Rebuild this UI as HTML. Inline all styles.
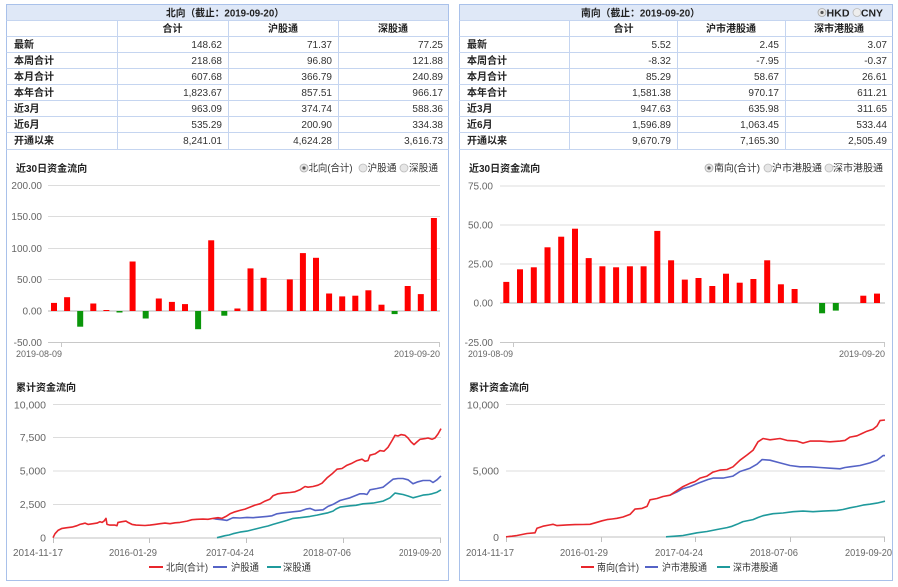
<!DOCTYPE html>
<html><head><meta charset="utf-8">
<style>
html,body{margin:0;padding:0;background:#fff;}
svg{display:block;}
text{font-family:"Liberation Sans","Noto Sans CJK SC",sans-serif;}
.cj{font-family:"Liberation Sans","Noto Sans CJK SC",sans-serif;}
.lb{font-size:10px;font-weight:bold;fill:#222;}
.num{font-size:10px;fill:#333;text-anchor:end;}
.hd{font-size:10px;font-weight:bold;fill:#222;text-anchor:middle;}
.ax{font-size:10px;fill:#666;text-anchor:end;}
.dt{font-size:9.5px;fill:#666;}
.lg{font-size:10px;fill:#333;}
.grid{stroke:#dcdcdc;stroke-width:1;}
</style></head>
<body>
<svg width="898" height="587" viewBox="0 0 898 587" xmlns="http://www.w3.org/2000/svg">
<!-- ================= LEFT PANEL ================= -->
<rect x="6.5" y="4.5" width="442" height="576" fill="#fff" stroke="#a9c1ea" stroke-width="1"/>
<rect x="7" y="5" width="441" height="15.5" fill="#dfe8f7"/>
<g stroke="#c5d5f0" stroke-width="1">
<line x1="6.5" y1="20.5" x2="448.5" y2="20.5"/>
<line x1="6.5" y1="36.5" x2="448.5" y2="36.5"/>
<line x1="6.5" y1="52.5" x2="448.5" y2="52.5"/>
<line x1="6.5" y1="68.5" x2="448.5" y2="68.5"/>
<line x1="6.5" y1="84.5" x2="448.5" y2="84.5"/>
<line x1="6.5" y1="100.5" x2="448.5" y2="100.5"/>
<line x1="6.5" y1="116.5" x2="448.5" y2="116.5"/>
<line x1="6.5" y1="132.5" x2="448.5" y2="132.5"/>
<line x1="6.5" y1="149.5" x2="448.5" y2="149.5"/>
<line x1="117.5" y1="20.5" x2="117.5" y2="149.5"/>
<line x1="228.5" y1="20.5" x2="228.5" y2="149.5"/>
<line x1="338.5" y1="20.5" x2="338.5" y2="149.5"/>
</g>
<text x="225" y="16.5" class="hd" textLength="118" lengthAdjust="spacingAndGlyphs">北向（截止：2019-09-20）</text>
<text x="172.5" y="32" class="hd">合计</text>
<text x="283" y="32" class="hd">沪股通</text>
<text x="393" y="32" class="hd">深股通</text>
<g class="lb">
<text x="14" y="48">最新</text>
<text x="14" y="64">本周合计</text>
<text x="14" y="80">本月合计</text>
<text x="14" y="96">本年合计</text>
<text x="14" y="112">近3月</text>
<text x="14" y="128">近6月</text>
<text x="14" y="144">开通以来</text>
</g>
<g class="num">
<text x="222" y="48">148.62</text><text x="332" y="48">71.37</text><text x="443" y="48">77.25</text>
<text x="222" y="64">218.68</text><text x="332" y="64">96.80</text><text x="443" y="64">121.88</text>
<text x="222" y="80">607.68</text><text x="332" y="80">366.79</text><text x="443" y="80">240.89</text>
<text x="222" y="96">1,823.67</text><text x="332" y="96">857.51</text><text x="443" y="96">966.17</text>
<text x="222" y="112">963.09</text><text x="332" y="112">374.74</text><text x="443" y="112">588.36</text>
<text x="222" y="128">535.29</text><text x="332" y="128">200.90</text><text x="443" y="128">334.38</text>
<text x="222" y="144">8,241.01</text><text x="332" y="144">4,624.28</text><text x="443" y="144">3,616.73</text>
</g>

<!-- left bar chart -->
<text x="16" y="172" class="lb">近30日资金流向</text>
<g>
<circle cx="304" cy="168" r="4" fill="#e6e6e6" stroke="#aaa" stroke-width="0.8"/><circle cx="304" cy="168" r="1.6" fill="#555"/>
<text x="308.5" y="171.5" class="lg" textLength="44" lengthAdjust="spacingAndGlyphs">北向(合计)</text>
<circle cx="363" cy="168" r="4" fill="#e6e6e6" stroke="#bbb" stroke-width="0.8"/>
<text x="367.5" y="171.5" class="lg" textLength="29" lengthAdjust="spacingAndGlyphs">沪股通</text>
<circle cx="404" cy="168" r="4" fill="#e6e6e6" stroke="#bbb" stroke-width="0.8"/>
<text x="409" y="171.5" class="lg" textLength="29" lengthAdjust="spacingAndGlyphs">深股通</text>
</g>
<g class="grid">
<line x1="48" y1="185.5" x2="440" y2="185.5"/>
<line x1="48" y1="216.5" x2="440" y2="216.5"/>
<line x1="48" y1="248.5" x2="440" y2="248.5"/>
<line x1="48" y1="279.5" x2="440" y2="279.5"/>
</g>
<line x1="48" y1="311" x2="440" y2="311" stroke="#b5b5b5" stroke-width="1"/>
<line x1="48" y1="342.5" x2="440" y2="342.5" stroke="#c8c8c8" stroke-width="1"/>
<line x1="61.5" y1="342" x2="61.5" y2="347" stroke="#c8c8c8"/>
<line x1="439.5" y1="342" x2="439.5" y2="347" stroke="#c8c8c8"/>
<g class="ax">
<text x="42" y="189">200.00</text>
<text x="42" y="220">150.00</text>
<text x="42" y="252">100.00</text>
<text x="42" y="283">50.00</text>
<text x="42" y="314.5">0.00</text>
<text x="42" y="346">-50.00</text>
</g>
<text x="16" y="357" class="dt" textLength="46" lengthAdjust="spacingAndGlyphs">2019-08-09</text>
<text x="394" y="357" class="dt" textLength="46" lengthAdjust="spacingAndGlyphs">2019-09-20</text>
<g fill="#ff0000">
<rect x="51" y="302.9" width="6" height="8.1"/>
<rect x="64.1" y="297.2" width="6" height="13.8"/>
<rect x="90.3" y="303.5" width="6" height="7.5"/>
<rect x="103.4" y="310" width="6" height="1"/>
<rect x="129.6" y="261.5" width="6" height="49.5"/>
<rect x="155.8" y="298.5" width="6" height="12.5"/>
<rect x="168.9" y="301.9" width="6" height="9.1"/>
<rect x="182" y="304.1" width="6" height="6.9"/>
<rect x="208.2" y="240.3" width="6" height="70.7"/>
<rect x="234.4" y="308.5" width="6" height="2.5"/>
<rect x="247.5" y="268.4" width="6" height="42.6"/>
<rect x="260.6" y="277.8" width="6" height="33.2"/>
<rect x="286.8" y="279.4" width="6" height="31.6"/>
<rect x="299.9" y="253.1" width="6" height="57.9"/>
<rect x="313" y="257.8" width="6" height="53.2"/>
<rect x="326.1" y="293.5" width="6" height="17.5"/>
<rect x="339.2" y="296.4" width="6" height="14.6"/>
<rect x="352.3" y="295.7" width="6" height="15.3"/>
<rect x="365.4" y="290.3" width="6" height="20.7"/>
<rect x="378.5" y="304.7" width="6" height="6.3"/>
<rect x="404.7" y="286" width="6" height="25"/>
<rect x="417.8" y="294.1" width="6" height="16.9"/>
<rect x="430.9" y="218" width="6" height="93"/>
</g>
<g fill="#0a960a">
<rect x="77.2" y="311" width="6" height="15.7"/>
<rect x="116.5" y="311" width="6" height="1.5"/>
<rect x="142.7" y="311" width="6" height="7.5"/>
<rect x="195.1" y="311" width="6" height="18.2"/>
<rect x="221.3" y="311" width="6" height="4.7"/>
<rect x="391.6" y="311" width="6" height="3.1"/>
</g>

<!-- left cumulative -->
<text x="16" y="391" class="lb">累计资金流向</text>
<g class="grid">
<line x1="53" y1="404.5" x2="441" y2="404.5"/>
<line x1="53" y1="437.5" x2="441" y2="437.5"/>
<line x1="53" y1="471" x2="441" y2="471"/>
<line x1="53" y1="504.5" x2="441" y2="504.5"/>
</g>
<line x1="53" y1="538" x2="441" y2="538" stroke="#c0c0c0"/>
<g stroke="#c0c0c0">
<line x1="53.5" y1="538" x2="53.5" y2="543"/>
<line x1="149.5" y1="538" x2="149.5" y2="543"/>
<line x1="246.5" y1="538" x2="246.5" y2="543"/>
<line x1="343.5" y1="538" x2="343.5" y2="543"/>
<line x1="440.5" y1="538" x2="440.5" y2="543"/>
</g>
<g class="ax" style="font-size:10.5px">
<text x="46" y="408.5">10,000</text>
<text x="46" y="441">7,500</text>
<text x="46" y="474.5">5,000</text>
<text x="46" y="508">2,500</text>
<text x="46" y="541.5">0</text>
</g>
<g class="dt" style="font-size:10.5px">
<text x="13" y="556" textLength="50" lengthAdjust="spacingAndGlyphs">2014-11-17</text>
<text x="109" y="556" textLength="48" lengthAdjust="spacingAndGlyphs">2016-01-29</text>
<text x="206" y="556" textLength="48" lengthAdjust="spacingAndGlyphs">2017-04-24</text>
<text x="303" y="556" textLength="48" lengthAdjust="spacingAndGlyphs">2018-07-06</text>
<text x="399" y="556" textLength="42" lengthAdjust="spacingAndGlyphs">2019-09-20</text>
</g>
<g fill="none" stroke-width="1.6" stroke-linejoin="round">
<polyline stroke="#1f9a9c" points="217,537.7 225,535.7 229,535 233,533.7 240,532.1 247,531.1 255,529.1 263,527.1 268,526 273,524.4 280,522.4 287,520.4 293,518.4 300,517.7 310,516.4 317,515.1 323,513.8 328,512.8 333,511.1 336,509 340,507.1 350,505.8 356,505.3 363,503.8 373,503.1 383,501.1 390,497.8 395,493.1 399,493.8 403,494.5 408,496 413,497.8 418,496.5 423,495.1 428,494.6 432,493.8 437,492.2 441,489.8"/>
<polyline stroke="#5563c6" points="213,518.4 216,519.1 222,519.7 227,520.4 233,517.7 240,518 247,517.4 253,517.7 260,517.1 267,516.4 272,515.8 277,513.8 282,513.1 287,512.4 293,511.8 300,511.1 306,509.1 310,508.4 315,510.4 323,509.8 328,506.4 333,504.4 340,500.5 345,499.1 350,497.8 355,495.8 360,493.8 364,493.8 367,494.5 370,489.8 377,488.5 383,487.2 388,483.2 393,479.2 398,478.5 403,478.5 408,479.8 413,483.8 418,481.8 423,480.5 430,480.5 433,482.5 437,479.8 441,475.9"/>
<polyline stroke="#e8262c" points="53,537.7 55,533.7 58,530.4 62,528.4 67,527.7 72,527.1 77,525.7 80,524.4 83,523.7 85,523.1 88,524.4 93,523.7 97,523.1 100,521.7 102,522.4 104,521.1 106,518.4 107,524.4 110,525.1 115,525.1 117,525.7 118,522.4 122,521.7 126,521.1 128,522.4 132,524.4 136,525.1 145,525.5 150,525.1 155,524.4 160,523.7 165,523.1 170,523.7 175,522.8 180,522.4 187,521.1 192,519.7 197,519.3 203,519.1 208,519.3 213,518.4 218,517.7 222,518.4 226,516.4 230,513.8 235,511.8 240,510.4 245,509.1 250,507.1 255,505.1 260,503.8 265,501.1 270,499.1 273,495.8 278,493.8 283,493.1 290,492.5 295,491.8 300,489.8 305,486.5 308,487.2 313,486.5 318,485.2 322,483.2 327,477.9 332,473.9 337,469.2 342,468.5 347,465.2 352,463.2 357,460.6 362,459.2 365,461.2 368,460.6 370,455.2 375,453.9 380,450.6 384,451.2 388,447.3 392,440.6 395,435.3 398,436 401,434.6 405,435.3 408,438 411,441.9 414,444.6 417,441.9 420,439.3 425,438.6 428,438 432,439.3 435,438 438,434 441,428.6"/>
</g>
<g stroke-width="2">
<line x1="149" y1="567" x2="163" y2="567" stroke="#e8262c"/>
<line x1="213" y1="567" x2="227" y2="567" stroke="#5563c6"/>
<line x1="267" y1="567" x2="281" y2="567" stroke="#1f9a9c"/>
</g>
<g class="lg">
<text x="166" y="571" textLength="42" lengthAdjust="spacingAndGlyphs">北向(合计)</text>
<text x="231" y="571" textLength="28" lengthAdjust="spacingAndGlyphs">沪股通</text>
<text x="283" y="571" textLength="28" lengthAdjust="spacingAndGlyphs">深股通</text>
</g>

<!-- ================= RIGHT PANEL ================= -->
<rect x="459.5" y="4.5" width="433" height="576" fill="#fff" stroke="#a9c1ea" stroke-width="1"/>
<rect x="460" y="5" width="432" height="15.5" fill="#dfe8f7"/>
<g stroke="#c5d5f0" stroke-width="1">
<line x1="459.5" y1="20.5" x2="892.5" y2="20.5"/>
<line x1="459.5" y1="36.5" x2="892.5" y2="36.5"/>
<line x1="459.5" y1="52.5" x2="892.5" y2="52.5"/>
<line x1="459.5" y1="68.5" x2="892.5" y2="68.5"/>
<line x1="459.5" y1="84.5" x2="892.5" y2="84.5"/>
<line x1="459.5" y1="100.5" x2="892.5" y2="100.5"/>
<line x1="459.5" y1="116.5" x2="892.5" y2="116.5"/>
<line x1="459.5" y1="132.5" x2="892.5" y2="132.5"/>
<line x1="459.5" y1="149.5" x2="892.5" y2="149.5"/>
<line x1="569.5" y1="20.5" x2="569.5" y2="149.5"/>
<line x1="677.5" y1="20.5" x2="677.5" y2="149.5"/>
<line x1="785.5" y1="20.5" x2="785.5" y2="149.5"/>
</g>
<text x="640.5" y="16.5" class="hd" textLength="119" lengthAdjust="spacingAndGlyphs">南向（截止：2019-09-20）</text>
<circle cx="822" cy="12.5" r="4" fill="#e6e6e6" stroke="#aaa" stroke-width="0.8"/><circle cx="822" cy="12.5" r="1.6" fill="#555"/>
<text x="826.5" y="16.5" style="font-size:10px;font-weight:bold;fill:#222" textLength="23" lengthAdjust="spacingAndGlyphs">HKD</text>
<circle cx="857" cy="12.5" r="4" fill="#eee" stroke="#bbb" stroke-width="0.8"/>
<text x="861" y="16.5" style="font-size:10px;font-weight:bold;fill:#222" textLength="22" lengthAdjust="spacingAndGlyphs">CNY</text>
<text x="623.5" y="32" class="hd">合计</text>
<text x="731" y="32" class="hd">沪市港股通</text>
<text x="839" y="32" class="hd">深市港股通</text>
<g class="lb">
<text x="467" y="48">最新</text>
<text x="467" y="64">本周合计</text>
<text x="467" y="80">本月合计</text>
<text x="467" y="96">本年合计</text>
<text x="467" y="112">近3月</text>
<text x="467" y="128">近6月</text>
<text x="467" y="144">开通以来</text>
</g>
<g class="num">
<text x="671" y="48">5.52</text><text x="779" y="48">2.45</text><text x="887" y="48">3.07</text>
<text x="671" y="64">-8.32</text><text x="779" y="64">-7.95</text><text x="887" y="64">-0.37</text>
<text x="671" y="80">85.29</text><text x="779" y="80">58.67</text><text x="887" y="80">26.61</text>
<text x="671" y="96">1,581.38</text><text x="779" y="96">970.17</text><text x="887" y="96">611.21</text>
<text x="671" y="112">947.63</text><text x="779" y="112">635.98</text><text x="887" y="112">311.65</text>
<text x="671" y="128">1,596.89</text><text x="779" y="128">1,063.45</text><text x="887" y="128">533.44</text>
<text x="671" y="144">9,670.79</text><text x="779" y="144">7,165.30</text><text x="887" y="144">2,505.49</text>
</g>

<!-- right bar chart -->
<text x="469" y="172" class="lb">近30日资金流向</text>
<g>
<circle cx="709" cy="168" r="4" fill="#e6e6e6" stroke="#aaa" stroke-width="0.8"/><circle cx="709" cy="168" r="1.6" fill="#555"/>
<text x="714" y="171.5" class="lg" textLength="46" lengthAdjust="spacingAndGlyphs">南向(合计)</text>
<circle cx="768" cy="168" r="4" fill="#e6e6e6" stroke="#bbb" stroke-width="0.8"/>
<text x="772" y="171.5" class="lg" textLength="50" lengthAdjust="spacingAndGlyphs">沪市港股通</text>
<circle cx="829" cy="168" r="4" fill="#e6e6e6" stroke="#bbb" stroke-width="0.8"/>
<text x="833" y="171.5" class="lg" textLength="50" lengthAdjust="spacingAndGlyphs">深市港股通</text>
</g>
<g class="grid">
<line x1="500" y1="186" x2="885" y2="186"/>
<line x1="500" y1="225" x2="885" y2="225"/>
<line x1="500" y1="264" x2="885" y2="264"/>
</g>
<line x1="500" y1="303" x2="885" y2="303" stroke="#b5b5b5"/>
<line x1="500" y1="342.5" x2="885" y2="342.5" stroke="#c8c8c8"/>
<line x1="513.5" y1="342" x2="513.5" y2="347" stroke="#c8c8c8"/>
<line x1="884.5" y1="342" x2="884.5" y2="347" stroke="#c8c8c8"/>
<g class="ax">
<text x="493" y="189.5">75.00</text>
<text x="493" y="228.5">50.00</text>
<text x="493" y="267.5">25.00</text>
<text x="493" y="306.5">0.00</text>
<text x="493" y="346">-25.00</text>
</g>
<text x="468" y="357" class="dt" textLength="45" lengthAdjust="spacingAndGlyphs">2019-08-09</text>
<text x="839" y="357" class="dt" textLength="46" lengthAdjust="spacingAndGlyphs">2019-09-20</text>
<g fill="#ff0000">
<rect x="503.3" y="281.9" width="6" height="21.1"/>
<rect x="517" y="269.3" width="6" height="33.7"/>
<rect x="530.8" y="267.3" width="6" height="35.7"/>
<rect x="544.5" y="247.3" width="6" height="55.7"/>
<rect x="558.2" y="236.7" width="6" height="66.3"/>
<rect x="572" y="228.7" width="6" height="74.3"/>
<rect x="585.7" y="258.1" width="6" height="44.9"/>
<rect x="599.4" y="266.3" width="6" height="36.7"/>
<rect x="613.1" y="267.3" width="6" height="35.7"/>
<rect x="626.9" y="266.3" width="6" height="36.7"/>
<rect x="640.6" y="266.3" width="6" height="36.7"/>
<rect x="654.3" y="230.9" width="6" height="72.1"/>
<rect x="668.1" y="260.3" width="6" height="42.7"/>
<rect x="681.8" y="279.6" width="6" height="23.4"/>
<rect x="695.5" y="278" width="6" height="25"/>
<rect x="709.3" y="286" width="6" height="17"/>
<rect x="723" y="273.7" width="6" height="29.3"/>
<rect x="736.7" y="282.7" width="6" height="20.3"/>
<rect x="750.4" y="279" width="6" height="24"/>
<rect x="764.2" y="260.3" width="6" height="42.7"/>
<rect x="777.9" y="284.3" width="6" height="18.7"/>
<rect x="791.6" y="289" width="6" height="14"/>
<rect x="860.3" y="295.7" width="6" height="7.3"/>
<rect x="874" y="293.6" width="6" height="9.4"/>
</g>
<g fill="#0a960a">
<rect x="819.1" y="303" width="6" height="10.3"/>
<rect x="832.8" y="303" width="6" height="7.6"/>
</g>

<!-- right cumulative -->
<text x="469" y="391" class="lb">累计资金流向</text>
<g class="grid">
<line x1="506" y1="404.5" x2="885" y2="404.5"/>
<line x1="506" y1="471" x2="885" y2="471"/>
</g>
<line x1="506" y1="537" x2="885" y2="537" stroke="#c0c0c0"/>
<g stroke="#c0c0c0">
<line x1="506.5" y1="537" x2="506.5" y2="542"/>
<line x1="601.5" y1="537" x2="601.5" y2="542"/>
<line x1="695.5" y1="537" x2="695.5" y2="542"/>
<line x1="790.5" y1="537" x2="790.5" y2="542"/>
<line x1="884.5" y1="537" x2="884.5" y2="542"/>
</g>
<g class="ax" style="font-size:10.5px">
<text x="499" y="408.5">10,000</text>
<text x="499" y="474.5">5,000</text>
<text x="499" y="541">0</text>
</g>
<g class="dt" style="font-size:10.5px">
<text x="466" y="556" textLength="48" lengthAdjust="spacingAndGlyphs">2014-11-17</text>
<text x="560" y="556" textLength="48" lengthAdjust="spacingAndGlyphs">2016-01-29</text>
<text x="655" y="556" textLength="48" lengthAdjust="spacingAndGlyphs">2017-04-24</text>
<text x="750" y="556" textLength="48" lengthAdjust="spacingAndGlyphs">2018-07-06</text>
<text x="845" y="556" textLength="47" lengthAdjust="spacingAndGlyphs">2019-09-20</text>
</g>
<g fill="none" stroke-width="1.6" stroke-linejoin="round">
<polyline stroke="#1f9a9c" points="666,536.8 675,536.2 683,535.5 690,534.2 697,532.8 707,531.5 717,529.5 727,527.6 732,526.3 737,524.3 743,521.6 753,519.6 758,517.5 763,515.7 773,513.7 783,513 793,511.7 803,511.1 813,511.7 823,511.1 837,510.4 843,509.5 850,507.8 857,506.5 863,505.1 870,504.2 877,503.1 885,501.2"/>
<polyline stroke="#5563c6" points="670,495.2 677,491.9 683,488.6 690,486.6 698,483.3 703,481.4 708,479.5 713,478.1 723,478.1 733,476.1 740,471.5 750,468.2 757,464.2 762,459.6 770,460.2 780,462.9 790,465.5 800,466.8 810,466.8 820,467.5 830,468.2 840,468.8 845,467.5 850,466.8 860,465.5 870,462.9 877,460.2 883,455.6 885,455.6"/>
<polyline stroke="#e8262c" points="506,536.8 512,536.2 517,535.5 522,534.5 527,533.5 535,532.8 537,528.2 543,526.2 550,524.9 553,524.3 557,525.6 567,524.9 575,524.6 583,524.5 590,524.3 597,522.3 602,520.8 607,519.6 612,519 617,518.3 623,517 630,514.4 635,509.1 642,508.4 647,506.4 650,499.8 657,498.5 663,496.5 670,495.2 677,490.6 683,486.6 690,483.3 695,481.5 700,478.1 707,476.1 713,472.1 720,470.1 727,469.5 733,466.8 740,460.2 747,455 753,450.3 758,441.8 763,438.5 770,439.8 780,438.5 787,440.4 797,441.1 803,443.1 810,441.1 820,441.1 830,441.8 840,441.1 845,440.4 850,437.1 857,435.8 862,433.5 867,431.2 873,429.2 877,426 880,420.6 885,420"/>
</g>
<g stroke-width="2">
<line x1="581" y1="567" x2="594" y2="567" stroke="#e8262c"/>
<line x1="645" y1="567" x2="658" y2="567" stroke="#5563c6"/>
<line x1="717" y1="567" x2="730" y2="567" stroke="#1f9a9c"/>
</g>
<g class="lg">
<text x="597" y="571" textLength="42" lengthAdjust="spacingAndGlyphs">南向(合计)</text>
<text x="662" y="571" textLength="45" lengthAdjust="spacingAndGlyphs">沪市港股通</text>
<text x="733" y="571" textLength="45" lengthAdjust="spacingAndGlyphs">深市港股通</text>
</g>
</svg>
</body></html>
